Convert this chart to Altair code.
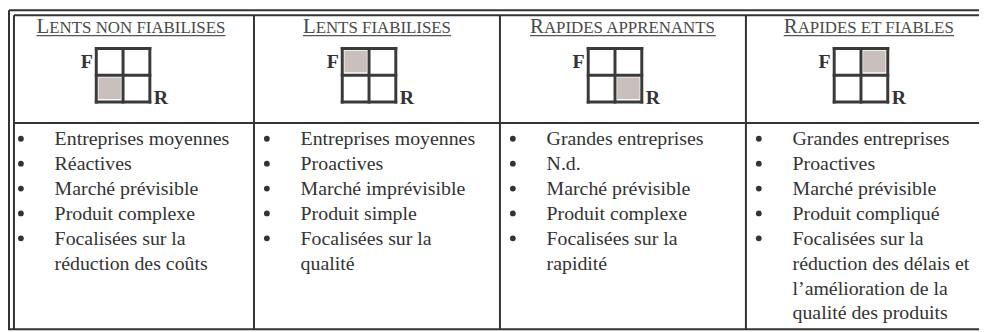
import altair as alt
import pandas as pd

# ---------------- content ----------------
TITLES = ["Lents non fiabilises", "Lents fiabilises", "Rapides apprenants", "Rapides et fiables"]
SHADED_ROW = [1, 0, 1, 0]   # 0 = top row, 1 = bottom row of the 2x2 grid
SHADED_COL = [0, 0, 1, 1]   # 0 = left column, 1 = right column
AXIS_TOP = "F"
AXIS_RIGHT = "R"
ITEMS = [
    [["Entreprises moyennes"], ["Réactives"], ["Marché prévisible"], ["Produit complexe"],
     ["Focalisées sur la", "réduction des coûts"]],
    [["Entreprises moyennes"], ["Proactives"], ["Marché imprévisible"], ["Produit simple"],
     ["Focalisées sur la", "qualité"]],
    [["Grandes entreprises"], ["N.d."], ["Marché prévisible"], ["Produit complexe"],
     ["Focalisées sur la", "rapidité"]],
    [["Grandes entreprises"], ["Proactives"], ["Marché prévisible"], ["Produit compliqué"],
     ["Focalisées sur la", "réduction des délais et", "l\u2019amélioration de la", "qualité des produits"]],
]

# ---------------- layout (pixels inside the chart) ----------------
W, H = 979, 324
COL_W = 248
N = len(TITLES)
FONT = "Liberation Serif"
INK = "#333333"
OUT_TOP, IN_TOP = 1, 6
OUT_LEFT, IN_LEFT = 1, 6
RIGHT_END = COL_W * N
HEADER_Y = 114.5
BOTTOM_Y = 322.5
TITLE_BASE = 24
UNDER_Y = 26.5
BIG, SMALL = 21, 17
G = 54
GRID_TOP = 39.5
GRID_DX = -35
F_BASE = 59
R_BASE = 95
BULLET_DX = 13
TEXT_DX = 47
LINE0 = 137
LINE_H = 25.1

TIMES = {'A': 722, 'B': 667, 'C': 667, 'D': 722, 'E': 611, 'F': 556, 'G': 722, 'H': 722, 'I': 333,
         'J': 389, 'K': 722, 'L': 611, 'M': 889, 'N': 722, 'O': 722, 'P': 556, 'Q': 722, 'R': 667,
         'S': 556, 'T': 611, 'U': 722, 'V': 722, 'W': 944, 'X': 722, 'Y': 722, 'Z': 611, ' ': 250}


def tw(s, size):
    return sum(TIMES.get(c, 600) for c in s) / 1000 * size


def u(px):
    return px / COL_W


xs = alt.Scale(domain=[0, W / COL_W], nice=False, zero=False)
ys = alt.Scale(domain=[H, 0], nice=False, zero=False)


def X(f="x"):
    return alt.X(f"{f}:Q", scale=xs, axis=None)


def Y(f="y"):
    return alt.Y(f"{f}:Q", scale=ys, axis=None)


# ---------------- frame lines ----------------
frame = []
frame.append(dict(x=u(OUT_LEFT), x2=u(RIGHT_END), y=OUT_TOP, y2=OUT_TOP))
frame.append(dict(x=u(IN_LEFT), x2=u(RIGHT_END), y=IN_TOP, y2=IN_TOP))
frame.append(dict(x=u(OUT_LEFT), x2=u(OUT_LEFT), y=OUT_TOP, y2=BOTTOM_Y + 1))
frame.append(dict(x=u(IN_LEFT), x2=u(IN_LEFT), y=IN_TOP, y2=BOTTOM_Y))
frame.append(dict(x=u(IN_LEFT), x2=u(RIGHT_END), y=HEADER_Y, y2=HEADER_Y))
frame.append(dict(x=u(OUT_LEFT), x2=u(RIGHT_END), y=BOTTOM_Y, y2=BOTTOM_Y))
for c in range(1, N):
    frame.append(dict(x=c, x2=c, y=IN_TOP, y2=BOTTOM_Y))
frame_df = pd.DataFrame(frame)

frame_layer = alt.Chart(frame_df).mark_rule(color=INK, strokeWidth=2).encode(
    x=X(), x2="x2:Q", y=Y(), y2="y2:Q")

# ---------------- titles ----------------
t_rows = []
for c, t in enumerate(TITLES):
    up = t.upper()
    wf, wr = tw(up[0], BIG), tw(up[1:], SMALL)
    center = c * COL_W + COL_W / 2
    left = center - (wf + wr) / 2
    t_rows.append(dict(first=up[0], rest=up[1:], xa=u(left + wf), xl=u(left),
                       xr=u(left + wf + wr), y=TITLE_BASE, yu=UNDER_Y))
t_df = pd.DataFrame(t_rows)
title_first = alt.Chart(t_df).mark_text(font=FONT, fontSize=BIG, align="right", baseline="alphabetic",
                                        color="#4a4a4a").encode(x=X("xa"), y=Y(), text="first:N")
title_rest = alt.Chart(t_df).mark_text(font=FONT, fontSize=SMALL, align="left", baseline="alphabetic",
                                       color="#4a4a4a").encode(x=X("xa"), y=Y(), text="rest:N")
underline = alt.Chart(t_df).mark_rule(color="#555555", strokeWidth=1.2).encode(
    x=X("xl"), x2="xr:Q", y=Y("yu"))

# ---------------- 2x2 grids ----------------
g_lines, shade, labels = [], [], []
for c in range(N):
    gx0 = c * COL_W + COL_W / 2 + GRID_DX
    for k in range(3):
        g_lines.append(dict(x=u(gx0), x2=u(gx0 + G), y=GRID_TOP + k * G / 2, y2=GRID_TOP + k * G / 2))
        g_lines.append(dict(x=u(gx0 + k * G / 2), x2=u(gx0 + k * G / 2), y=GRID_TOP, y2=GRID_TOP + G))
    r, cc = SHADED_ROW[c], SHADED_COL[c]
    inset = 2.2
    shade.append(dict(x=u(gx0 + cc * G / 2 + inset), x2=u(gx0 + (cc + 1) * G / 2 - inset),
                      y=GRID_TOP + r * G / 2 + inset, y2=GRID_TOP + (r + 1) * G / 2 - inset - 0.8))
    labels.append(dict(lab=AXIS_TOP, x=u(gx0 - 3.5), y=F_BASE, al="right"))
    labels.append(dict(lab=AXIS_RIGHT, x=u(gx0 + G + 4), y=R_BASE, al="left"))
g_df = pd.DataFrame(g_lines)
s_df = pd.DataFrame(shade)
l_df = pd.DataFrame(labels)

shade_layer = alt.Chart(s_df).mark_rect(color="#c9c0bd").encode(x=X(), x2="x2:Q", y=Y(), y2="y2:Q")
grid_layer = alt.Chart(g_df).mark_rule(color="#3a3a3a", strokeWidth=3, strokeCap="square").encode(
    x=X(), x2="x2:Q", y=Y(), y2="y2:Q")
f_layer = alt.Chart(l_df[l_df.al == "right"]).mark_text(
    font=FONT, fontSize=20, fontWeight="bold", align="right", baseline="alphabetic", color=INK
).encode(x=X(), y=Y(), text="lab:N")
r_layer = alt.Chart(l_df[l_df.al == "left"]).mark_text(
    font=FONT, fontSize=20, fontWeight="bold", align="left", baseline="alphabetic", color=INK
).encode(x=X(), y=Y(), text="lab:N")

# ---------------- bullet lists ----------------
lines, bullets = [], []
for c, items in enumerate(ITEMS):
    li = 0
    for item in items:
        bullets.append(dict(x=u(c * COL_W + BULLET_DX), y=LINE0 + li * LINE_H - 6.5))
        for txt in item:
            lines.append(dict(x=u(c * COL_W + TEXT_DX), y=LINE0 + li * LINE_H, txt=txt))
            li += 1
line_df = pd.DataFrame(lines)
bul_df = pd.DataFrame(bullets)

text_layer = alt.Chart(line_df).mark_text(font=FONT, fontSize=20, align="left", baseline="alphabetic",
                                          color=INK).encode(x=X(), y=Y(), text="txt:N")
bullet_layer = alt.Chart(bul_df).mark_circle(color=INK, size=34, opacity=1).encode(x=X(), y=Y())

chart = alt.layer(
    frame_layer, underline, title_first, title_rest, shade_layer, grid_layer, f_layer, r_layer,
    bullet_layer, text_layer
).properties(width=W, height=H, padding=0, autosize="none", background="white"
).configure_view(stroke=None)

chart.save("out.html", embed_options={"renderer": "svg", "actions": False})
